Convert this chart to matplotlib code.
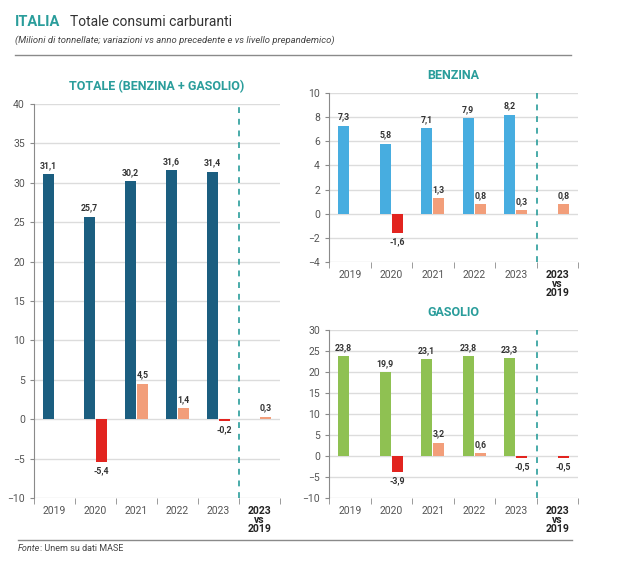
import matplotlib.pyplot as plt
import numpy as np

plt.rcParams['font.family'] = ['Roboto', 'DejaVu Sans']

years = ['2019', '2020', '2021', '2022', '2023']
extra_label = '2023\nvs\n2019'

totale = [31.1, 25.7, 30.2, 31.6, 31.4]
totale_var = [None, -5.4, 4.5, 1.4, -0.2]
totale_vs19 = 0.3

benzina = [7.3, 5.8, 7.1, 7.9, 8.2]
benzina_var = [None, -1.6, 1.3, 0.8, 0.3]
benzina_vs19 = 0.8

gasolio = [23.8, 19.9, 23.1, 23.8, 23.3]
gasolio_var = [None, -3.9, 3.2, 0.6, -0.5]
gasolio_vs19 = -0.5

TEAL = '#2a9d9b'
POS = '#f29e7a'
NEG = '#e2241f'
GRID = '#dcdcdc'
TXT = '#333333'


def fmt(v):
    return f'{v:.1f}'.replace('.', ',')


def draw(ax, vals, var, vs19, color, ylim, step, title):
    ax.set_xlim(0, 6)
    ax.set_ylim(*ylim)
    ax.set_yticks(np.arange(ylim[0], ylim[1] + step / 2, step))
    ax.grid(axis='y', color=GRID, linewidth=1)
    ax.set_axisbelow(True)
    for s in ['top', 'right', 'bottom']:
        ax.spines[s].set_visible(False)
    ax.spines['left'].set_color('#8a8a8a')
    ax.tick_params(axis='y', colors='#8a8a8a', labelcolor='#555555', labelsize=7.5, length=3)

    # livelli
    x0 = np.arange(len(vals))
    ax.bar(x0 + 0.22, vals, width=0.27, align='edge', color=color)
    for x, v in zip(x0, vals):
        ax.annotate(fmt(v), (x + 0.355, v), xytext=(0, 3), textcoords='offset points',
                    ha='center', va='bottom', fontsize=6.3, fontweight='bold', color=TXT)

    # variazioni
    xs = [i for i, v in enumerate(var) if v is not None] + [5]
    vs = [v for v in var if v is not None] + [vs19]
    cols = [POS if v >= 0 else NEG for v in vs]
    ax.bar(np.array(xs) + 0.51, vs, width=0.27, align='edge', color=cols)
    for x, v in zip(xs, vs):
        if v >= 0:
            ax.annotate(fmt(v), (x + 0.645, v), xytext=(0, 3), textcoords='offset points',
                        ha='center', va='bottom', fontsize=6.3, fontweight='bold', color=TXT)
        else:
            ax.annotate(fmt(v), (x + 0.645, v), xytext=(0, -3), textcoords='offset points',
                        ha='center', va='top', fontsize=6.3, fontweight='bold', color=TXT)

    ax.axvline(5, color=TEAL, linestyle=(0, (3.5, 3.5)), linewidth=1.2)

    ax.set_xticks(np.arange(6) + 0.5)
    ax.set_xticklabels(years + [''])
    ax.tick_params(axis='x', length=0, labelsize=7.5, labelcolor='#555555', pad=6)
    ax.set_xticks(np.arange(7), minor=True)
    ax.tick_params(axis='x', which='minor', length=4, color='#8a8a8a')
    ax.annotate(extra_label, (5.5, 0), xycoords=('data', 'axes fraction'),
                xytext=(0, -6), textcoords='offset points', ha='center', va='top',
                fontsize=7.5, fontweight='bold', color='#222222', linespacing=0.85)
    ax.set_title(title, color=TEAL, fontweight='bold', fontsize=9, pad=10)


fig = plt.figure(figsize=(6.25, 5.76), dpi=100)

ax1 = fig.add_axes([34 / 625, 1 - 498 / 576, 246 / 625, 394 / 576])
ax2 = fig.add_axes([329 / 625, 1 - 262 / 576, 249 / 625, 169 / 576])
ax3 = fig.add_axes([329 / 625, 1 - 498 / 576, 249 / 625, 168 / 576])

draw(ax1, totale, totale_var, totale_vs19, '#1b5e80', (-10, 40), 5, 'TOTALE (BENZINA + GASOLIO)')
draw(ax2, benzina, benzina_var, benzina_vs19, '#47ade0', (-4, 10), 2, 'BENZINA')
draw(ax3, gasolio, gasolio_var, gasolio_vs19, '#8fc152', (-10, 30), 5, 'GASOLIO')

# intestazione
fig.text(15 / 625, 1 - 22 / 576, 'ITALIA', color=TEAL, fontweight='bold', fontsize=10.5, va='center')
fig.text(70 / 625, 1 - 22 / 576, 'Totale consumi carburanti', color='#333333', fontsize=10, va='center')
fig.text(15 / 625, 1 - 40 / 576, '(Milioni di tonnellate; variazioni vs anno precedente e vs livello prepandemico)',
         color='#444444', fontsize=6.8, style='italic', va='center')
fig.add_artist(plt.Line2D([15 / 625, 571 / 625], [1 - 55 / 576] * 2, color='#8a8a8a', linewidth=1))
fig.add_artist(plt.Line2D([18 / 625, 572 / 625], [1 - 540 / 576] * 2, color='#8a8a8a', linewidth=1))
fonte = fig.text(18 / 625, 1 - 551 / 576, 'Fonte', color='#444444', fontsize=6.5, style='italic', va='baseline')
fig.add_artist(plt.Annotation(': Unem su dati MASE', xy=(1, 0), xycoords=fonte, va='bottom',
                              color='#444444', fontsize=6.5))

fig.savefig('out.png', dpi=100)
